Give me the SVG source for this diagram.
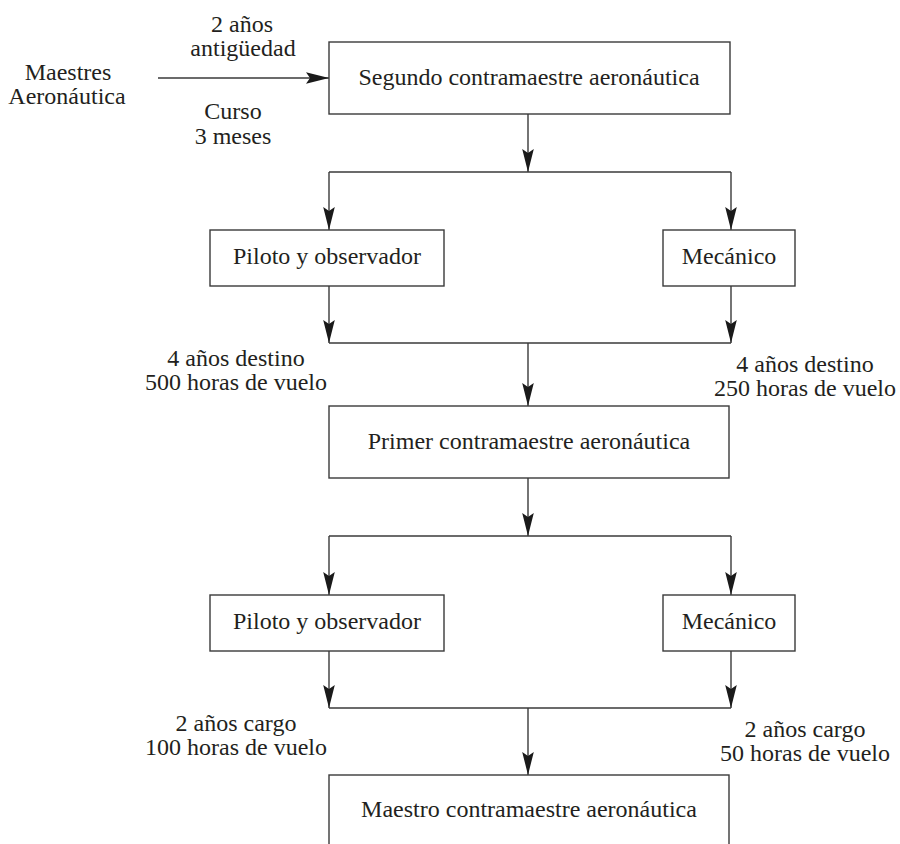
<svg xmlns="http://www.w3.org/2000/svg" width="900" height="844" viewBox="0 0 900 844">
<style>
  .box { fill: #ffffff; stroke: #3a3a3a; stroke-width: 1.4; }
  .ln { fill: none; stroke: #3a3a3a; stroke-width: 1.4; }
  .arr { fill: none; stroke: #3a3a3a; stroke-width: 1.4; marker-end: url(#ah); }
  text { font-family: "Liberation Serif", "Times New Roman", serif; font-size: 24px; fill: #231f20; text-anchor: middle; }
</style>
<defs>
  <marker id="ah" viewBox="-24 -7 25 14" refX="0" refY="0" markerWidth="25" markerHeight="14" markerUnits="userSpaceOnUse" orient="auto">
    <path d="M0,0 L-23,-5.8 L-19,0 L-23,5.8 Z" fill="#1a1a1a"/>
  </marker>
</defs>
<rect width="900" height="844" fill="#ffffff"/>

<g id="connectors">
  <path class="arr" d="M158,78 H329"/>
  <path class="arr" d="M528,114 V172"/>
  <path class="ln" d="M329,172 H731"/>
  <path class="arr" d="M329,172 V230"/>
  <path class="arr" d="M731,172 V230"/>
  <path class="arr" d="M329,286 V343"/>
  <path class="arr" d="M731,286 V343"/>
  <path class="ln" d="M329,343 H731"/>
  <path class="arr" d="M528,343 V406"/>
  <path class="arr" d="M528,478 V536"/>
  <path class="ln" d="M329,536 H731"/>
  <path class="arr" d="M329,536 V595"/>
  <path class="arr" d="M731,536 V595"/>
  <path class="arr" d="M329,651 V708"/>
  <path class="arr" d="M731,651 V708"/>
  <path class="ln" d="M329,708 H731"/>
  <path class="arr" d="M528,708 V775"/>
</g>

<g id="labels">
  <text x="68" y="80">Maestres</text>
  <text x="67" y="104">Aeronáutica</text>
  <text x="242" y="32">2 años</text>
  <text x="243" y="56">antigüedad</text>
  <text x="233" y="119">Curso</text>
  <text x="233" y="144">3 meses</text>
  <text x="236" y="366">4 años destino</text>
  <text x="236" y="390">500 horas de vuelo</text>
  <text x="805" y="372">4 años destino</text>
  <text x="805" y="396">250 horas de vuelo</text>
  <text x="236" y="731">2 años cargo</text>
  <text x="236" y="755">100 horas de vuelo</text>
  <text x="805" y="737">2 años cargo</text>
  <text x="805" y="761">50 horas de vuelo</text>
</g>

<g id="segundo">
  <rect class="box" x="329" y="42" width="401" height="72"/>
  <text x="529" y="85">Segundo contramaestre aeronáutica</text>
</g>
<g id="piloto1">
  <rect class="box" x="210" y="230" width="234" height="56"/>
  <text x="327" y="264">Piloto y observador</text>
</g>
<g id="mecanico1">
  <rect class="box" x="663" y="230" width="132" height="56"/>
  <text x="729" y="264">Mecánico</text>
</g>
<g id="primer">
  <rect class="box" x="329" y="406" width="400" height="72"/>
  <text x="529" y="449">Primer contramaestre aeronáutica</text>
</g>
<g id="piloto2">
  <rect class="box" x="210" y="595" width="234" height="56"/>
  <text x="327" y="629">Piloto y observador</text>
</g>
<g id="mecanico2">
  <rect class="box" x="663" y="595" width="132" height="56"/>
  <text x="729" y="629">Mecánico</text>
</g>
<g id="maestro">
  <rect class="box" x="329" y="775" width="400" height="80"/>
  <text x="529" y="817">Maestro contramaestre aeronáutica</text>
</g>
</svg>
